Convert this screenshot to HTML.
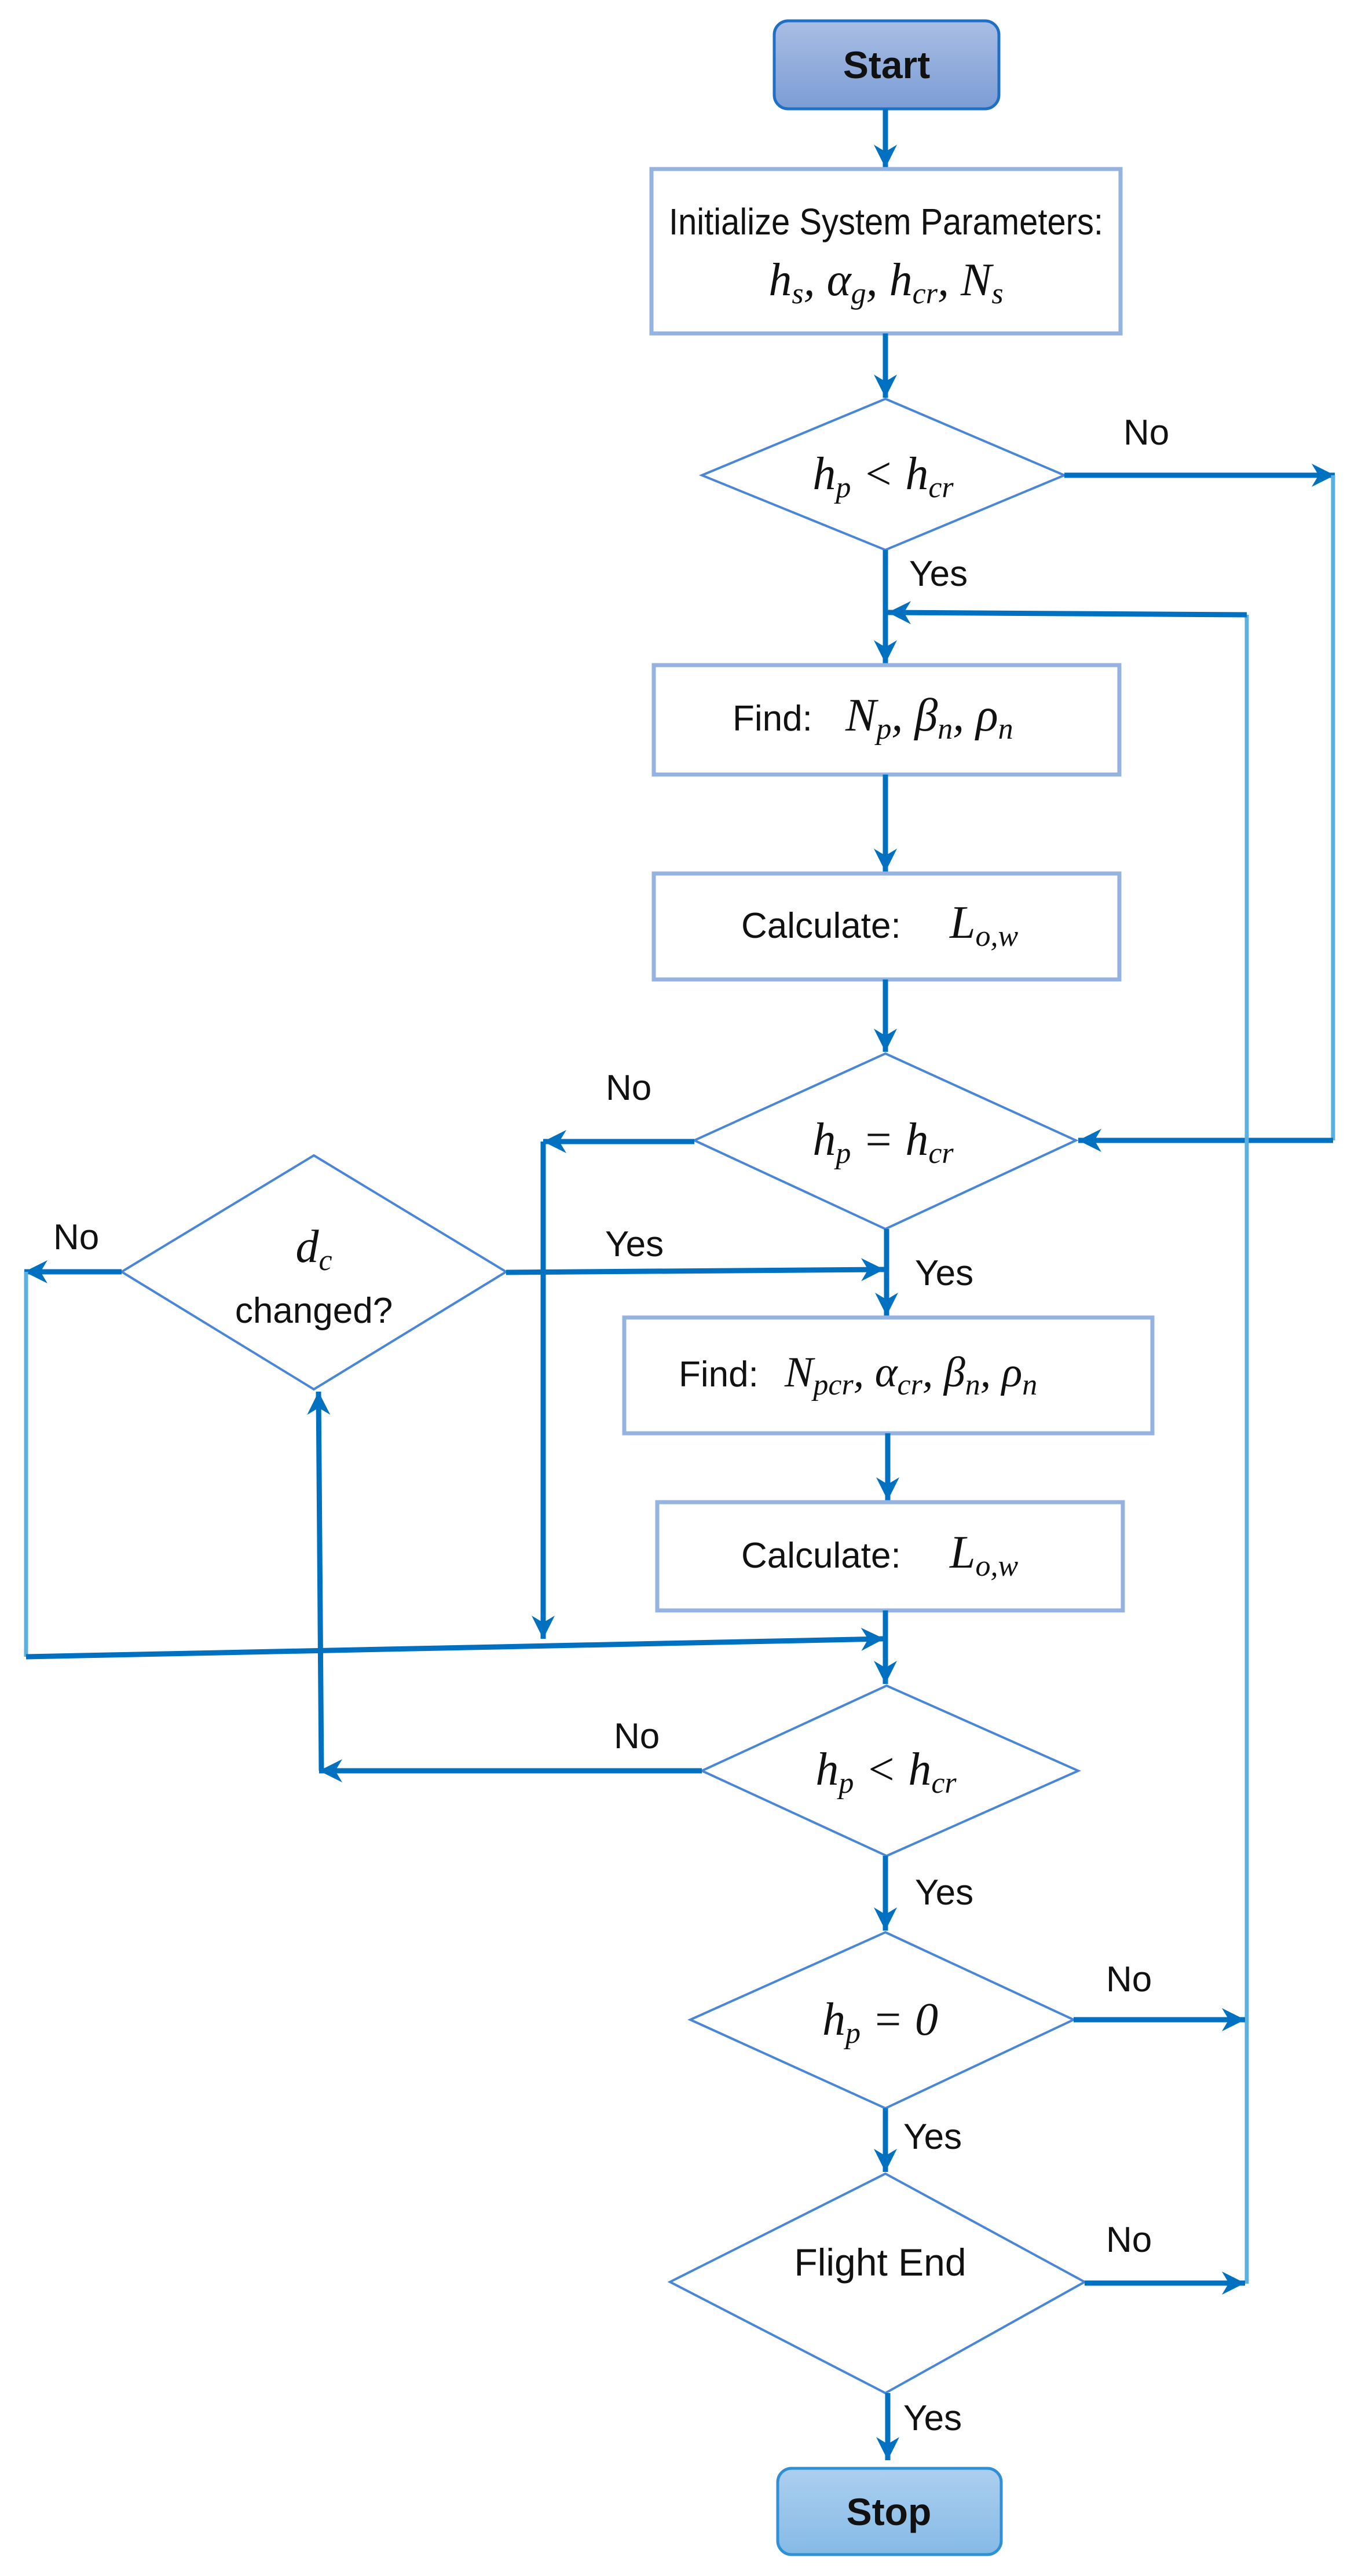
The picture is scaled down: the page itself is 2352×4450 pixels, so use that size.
<!DOCTYPE html>
<html><head><meta charset="utf-8"><style>
html,body{margin:0;padding:0;background:#fff}
svg{display:block}
.t{font-family:"Liberation Sans",sans-serif;font-size:62px;fill:#111}
.m{font-family:"Liberation Serif",serif;font-style:italic;font-size:80px;fill:#111}
.s{font-size:52px}
.ln{stroke:#0070C0;stroke-width:9;fill:none}
.lt{stroke:#5AB0E0;stroke-width:7;fill:none}
.bx{fill:#fff;stroke:#95B3E0;stroke-width:7}
.dm{fill:#fff;stroke:#4A86D8;stroke-width:4}
</style></head><body>
<svg width="2352" height="4450" viewBox="0 0 2352 4450" xmlns="http://www.w3.org/2000/svg">
<defs>
<marker id="a" markerUnits="userSpaceOnUse" markerWidth="40" markerHeight="40" viewBox="0 0 10 10" refX="10" refY="5" orient="auto">
<path d="M0,0 L10,5 L0,10 L3,5 z" fill="#0070C0"/></marker>
<linearGradient id="g1" x1="0" y1="0" x2="0" y2="1"><stop offset="0" stop-color="#A9BDE3"/><stop offset="1" stop-color="#7B9DD5"/></linearGradient>
<linearGradient id="g2" x1="0" y1="0" x2="0" y2="1"><stop offset="0" stop-color="#ACCFEF"/><stop offset="1" stop-color="#85BAE6"/></linearGradient>
</defs>

<rect x="1337" y="36" width="388" height="152" rx="24" fill="url(#g1)" stroke="#1F6FC5" stroke-width="5"/>
<text x="1531" y="135" text-anchor="middle" class="t" style="font-weight:bold;font-size:66px">Start</text>
<line x1="1529" y1="188" x2="1529" y2="290" class="ln" marker-end="url(#a)"/>

<rect x="1125" y="292" width="810" height="284" class="bx"/>
<text x="1155" y="405" class="t" style="font-size:64px" textLength="750" lengthAdjust="spacingAndGlyphs">Initialize System Parameters:</text>
<text x="1530" y="510" text-anchor="middle" class="m">h<tspan class="s" dy="14">s</tspan><tspan dy="-14">, α</tspan><tspan class="s" dy="14">g</tspan><tspan dy="-14">, h</tspan><tspan class="s" dy="14">cr</tspan><tspan dy="-14">, N</tspan><tspan class="s" dy="14">s</tspan></text>
<line x1="1529" y1="576" x2="1529" y2="687" class="ln" marker-end="url(#a)"/>

<polygon points="1529,689 1838,821 1529,950 1212,821" class="dm"/>
<text x="1525" y="845" text-anchor="middle" class="m">h<tspan class="s" dy="14">p</tspan><tspan dy="-14"> &lt; h</tspan><tspan class="s" dy="14">cr</tspan></text>
<text x="1940" y="768" class="t">No</text>
<line x1="1838" y1="821" x2="2305" y2="821" class="ln" marker-end="url(#a)"/>
<line x1="2302" y1="821" x2="2302" y2="1970" class="lt"/>
<line x1="2302" y1="1970" x2="1862" y2="1970" class="ln" marker-end="url(#a)"/>
<text x="1570" y="1012" class="t">Yes</text>
<line x1="1529" y1="950" x2="1529" y2="1146" class="ln" marker-end="url(#a)"/>

<line x1="2153" y1="1062" x2="2153" y2="3945" class="lt"/>
<line x1="2153" y1="1062" x2="1533" y2="1058" class="ln" marker-end="url(#a)"/>

<rect x="1129" y="1149" width="804" height="189" class="bx"/>
<text x="1265" y="1262" class="t">Find:</text>
<text x="1460" y="1262" class="m">N<tspan class="s" dy="14">p</tspan><tspan dy="-14">, β</tspan><tspan class="s" dy="14">n</tspan><tspan dy="-14">, ρ</tspan><tspan class="s" dy="14">n</tspan></text>
<line x1="1529" y1="1338" x2="1529" y2="1506" class="ln" marker-end="url(#a)"/>

<rect x="1129" y="1509" width="804" height="183" class="bx"/>
<text x="1280" y="1620" class="t">Calculate:</text>
<text x="1640" y="1620" class="m">L<tspan class="s" dy="14">o,w</tspan></text>
<line x1="1529" y1="1692" x2="1529" y2="1817" class="ln" marker-end="url(#a)"/>

<polygon points="1529,1820 1858,1970 1529,2123 1199,1970" class="dm"/>
<text x="1525" y="1995" text-anchor="middle" class="m">h<tspan class="s" dy="14">p</tspan><tspan dy="-14"> = h</tspan><tspan class="s" dy="14">cr</tspan></text>
<text x="1046" y="1900" class="t">No</text>
<line x1="1199" y1="1972" x2="938" y2="1972" class="ln" marker-end="url(#a)"/>
<line x1="938" y1="1972" x2="938" y2="2831" class="ln" marker-end="url(#a)"/>
<text x="1580" y="2220" class="t">Yes</text>
<line x1="1531" y1="2123" x2="1531" y2="2273" class="ln" marker-end="url(#a)"/>

<polygon points="542,1996 874,2197 542,2400 210,2197" class="dm"/>
<text x="542" y="2180" text-anchor="middle" class="m">d<tspan class="s" dy="14">c</tspan></text>
<text x="542" y="2285" text-anchor="middle" class="t">changed?</text>
<text x="92" y="2158" class="t">No</text>
<line x1="210" y1="2197" x2="42" y2="2197" class="ln" marker-end="url(#a)"/>
<line x1="45" y1="2197" x2="45" y2="2862" class="lt"/>
<line x1="45" y1="2862" x2="1527" y2="2831" class="ln" marker-end="url(#a)"/>
<text x="1045" y="2170" class="t">Yes</text>
<line x1="874" y1="2198" x2="1527" y2="2193" class="ln" marker-end="url(#a)"/>

<rect x="1078" y="2276" width="912" height="200" class="bx"/>
<text x="1172" y="2395" class="t">Find:</text>
<text x="1355" y="2395" class="m" style="font-size:74px">N<tspan class="s" dy="14">pcr</tspan><tspan dy="-14">, α</tspan><tspan class="s" dy="14">cr</tspan><tspan dy="-14">, β</tspan><tspan class="s" dy="14">n</tspan><tspan dy="-14">, ρ</tspan><tspan class="s" dy="14">n</tspan></text>
<line x1="1533" y1="2476" x2="1533" y2="2592" class="ln" marker-end="url(#a)"/>

<rect x="1135" y="2595" width="804" height="187" class="bx"/>
<text x="1280" y="2708" class="t">Calculate:</text>
<text x="1640" y="2708" class="m">L<tspan class="s" dy="14">o,w</tspan></text>
<line x1="1529" y1="2782" x2="1529" y2="2909" class="ln" marker-end="url(#a)"/>

<polygon points="1531,2912 1862,3059 1531,3206 1212,3059" class="dm"/>
<text x="1530" y="3083" text-anchor="middle" class="m">h<tspan class="s" dy="14">p</tspan><tspan dy="-14"> &lt; h</tspan><tspan class="s" dy="14">cr</tspan></text>
<text x="1060" y="3020" class="t">No</text>
<line x1="1212" y1="3059" x2="551" y2="3059" class="ln" marker-end="url(#a)"/>
<line x1="555" y1="3059" x2="550" y2="2404" class="ln" marker-end="url(#a)"/>
<text x="1580" y="3290" class="t">Yes</text>
<line x1="1529" y1="3206" x2="1529" y2="3335" class="ln" marker-end="url(#a)"/>

<polygon points="1529,3338 1854,3489 1529,3642 1192,3489" class="dm"/>
<text x="1520" y="3515" text-anchor="middle" class="m">h<tspan class="s" dy="14">p</tspan><tspan dy="-14"> = 0</tspan></text>
<text x="1910" y="3440" class="t">No</text>
<line x1="1854" y1="3489" x2="2150" y2="3489" class="ln" marker-end="url(#a)"/>
<text x="1560" y="3712" class="t">Yes</text>
<line x1="1529" y1="3642" x2="1529" y2="3752" class="ln" marker-end="url(#a)"/>

<polygon points="1529,3755 1873,3942 1529,4134 1157,3942" class="dm"/>
<text x="1520" y="3931" text-anchor="middle" class="t" style="font-size:66px">Flight End</text>
<text x="1910" y="3890" class="t">No</text>
<line x1="1873" y1="3944" x2="2150" y2="3944" class="ln" marker-end="url(#a)"/>
<text x="1560" y="4198" class="t">Yes</text>
<line x1="1533" y1="4134" x2="1533" y2="4250" class="ln" marker-end="url(#a)"/>

<rect x="1343" y="4264" width="386" height="149" rx="24" fill="url(#g2)" stroke="#2F90D6" stroke-width="5"/>
<text x="1535" y="4362" text-anchor="middle" class="t" style="font-weight:bold;font-size:66px">Stop</text>
</svg>
</body></html>
